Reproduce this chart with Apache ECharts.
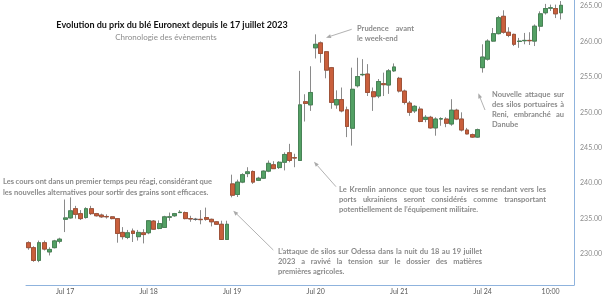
<!DOCTYPE html>
<html><head><meta charset="utf-8">
<script src="https://cdn.jsdelivr.net/npm/echarts@6/dist/echarts.min.js"></script>
<style>html,body{margin:0;padding:0;background:#fff}#c{width:605px;height:297px}</style>
</head><body><div id="c"></div>
<script>
// 30-minute candles, Euronext milling wheat (EUR/t)
const openV  = [231.6,230.9,229.1,231.6,230.3,230.9,231.8,234.9,235.1,236.4,235.7,235.15,236.4,235.7,235.5,235.3,235.25,235.0,233.05,232.35,
233.25,232.45,233.0,233.0,234.65,233.6,233.75,235.2,235.4,235.85,235.85,235.0,234.9,234.9,235.15,234.9,234.55,234.2,232.05,239.9,
238.4,240.15,241.35,241.65,240.4,240.7,241.7,242.6,242.2,242.95,244.3,243.6,243.2,251.5,251.05,259.1,259.8,258.55,256.3,251.05,
251.8,250.35,247.75,253.75,255.3,255.4,252.9,252.3,254.05,253.85,255.85,254.8,253.0,251.3,250.2,250.45,249.0,249.3,247.8,249.05,
249.05,248.35,250.3,249.05,247.5,246.85,246.5,256.3,257.5,260.05,261.1,263.55,261.3,261.0,260.0,260.1,260.15,260.05,262.15,264.05,
264.7,264.65,264.05];
const closeV = [230.9,229.1,231.6,230.7,230.65,231.85,232.1,235.1,236.1,235.6,235.0,236.4,235.7,235.4,235.25,235.25,235.0,232.9,232.45,233.0,
232.9,233.05,232.75,234.7,233.5,234.3,235.25,235.25,235.7,235.9,235.0,234.95,234.9,234.85,234.9,234.55,234.2,232.05,234.2,238.3,
240.15,241.2,241.6,240.15,240.7,241.7,242.8,242.05,242.95,244.05,243.2,243.55,251.05,251.25,252.8,259.6,258.3,255.95,251.4,251.8,
250.2,248.0,253.25,255.05,255.35,252.8,252.2,254.35,253.9,255.85,256.4,253.0,251.4,250.0,250.85,248.7,249.3,247.8,249.05,249.1,
248.45,250.3,249.05,247.5,246.95,246.5,247.55,257.8,260.05,261.1,263.35,261.3,260.85,259.6,260.05,260.15,260.1,262.15,263.9,264.65,
264.75,263.9,265.1];
const lowV   = [230.6,228.9,228.85,230.5,229.8,230.8,231.5,233.1,235.0,235.0,234.8,235.0,235.5,235.3,235.1,235.0,234.9,231.6,232.05,232.1,
231.7,231.9,231.5,232.8,233.4,233.5,233.7,234.7,235.25,235.8,234.9,234.55,234.7,234.2,234.7,233.9,234.1,232.0,232.0,238.0,
238.05,240.0,240.85,239.9,240.3,240.6,241.55,242.0,242.0,241.8,242.95,242.25,243.15,248.7,250.2,257.6,257.0,254.8,250.5,250.5,
250.0,246.5,245.3,253.5,255.1,252.3,250.2,252.0,252.3,252.6,255.7,252.8,251.1,249.5,249.9,248.6,248.6,247.7,246.7,248.1,
247.9,248.1,248.9,247.3,246.9,246.4,246.4,255.6,257.3,259.95,261.0,261.1,260.6,259.35,259.1,259.6,259.5,259.35,261.45,263.8,
264.3,263.3,263.1];
const highV  = [231.8,231.1,231.9,231.9,230.95,232.0,232.3,237.7,238.0,236.8,236.2,236.6,236.8,235.8,235.7,235.6,235.35,235.05,233.8,233.4,
233.6,233.4,233.5,234.8,234.8,234.75,235.4,235.85,235.8,236.2,236.0,235.4,235.1,236.2,236.55,235.0,234.65,234.7,234.7,241.2,
240.5,241.4,242.25,241.8,240.9,241.8,243.2,243.1,243.1,244.35,245.55,244.15,255.85,252.55,256.5,261.0,260.0,258.65,256.4,253.1,
253.5,250.8,256.3,257.7,257.5,256.8,253.5,254.7,255.6,256.1,256.9,255.0,253.2,251.6,251.0,250.8,249.6,249.5,249.3,249.3,
249.3,251.85,250.5,250.0,247.8,247.0,247.7,259.6,260.3,261.9,263.6,264.4,262.0,261.1,260.5,261.2,261.3,262.4,264.25,265.3,
265.2,265.2,265.7];
const slotCount = 105;
const tickIndex = [7, 23, 39, 55, 71, 87, 100];
const tickText  = ['Jul 17', 'Jul 18', 'Jul 19', 'Jul 20', 'Jul 21', 'Jul 24', '10:00'];
const yTicks    = [230, 235, 240, 245, 250, 255, 260, 265];
const yMin = 225.63, yMax = 265.85;

const categories = Array.from({length: slotCount}, (_, i) => {
  const k = tickIndex.indexOf(i); return k >= 0 ? tickText[k] : '';
});
const wickData = openV.map((o, i) => [o, closeV[i], lowV[i], highV[i]]);
const bodyData = openV.map((o, i) => [o, closeV[i], Math.min(o, closeV[i]), Math.max(o, closeV[i])]);

const chart = echarts.init(document.getElementById('c'), null, {renderer: 'canvas'});

const FONT = 'Lato';
const annColor = '#8a8a8a';
const ctx = document.createElement('canvas').getContext('2d');
function para(lines, x, yc, w, lh, nJust, fs) {
  const font = 'bold ' + fs + 'px ' + FONT;
  ctx.font = font;
  const out = [];
  lines.forEach((ln, li) => {
    const y = yc + li * lh;
    if (li < nJust) {
      const words = ln.split(/\s+/);
      const ws = words.map(t => ctx.measureText(t).width);
      const sum = ws.reduce((a, b) => a + b, 0);
      const gap = words.length > 1 ? (w - sum) / (words.length - 1) : 0;
      let cx = x;
      words.forEach((t, k) => {
        out.push({type: 'text', silent: true, style: {text: t, x: cx, y: y, font: font, fill: annColor, align: 'left', verticalAlign: 'middle'}});
        cx += ws[k] + gap;
      });
    } else {
      out.push({type: 'text', silent: true, style: {text: ln, x: x, y: y, font: font, fill: annColor, align: 'left', verticalAlign: 'middle'}});
    }
  });
  return out;
}
function arrow(x1, y1, x2, y2) {
  const a = Math.atan2(y2 - y1, x2 - x1), L = 5, H = 2;
  const bx = x2 - L * Math.cos(a), by = y2 - L * Math.sin(a);
  return [
    {type: 'line', silent: true, shape: {x1: x1, y1: y1, x2: bx, y2: by}, style: {stroke: '#a9a9a9', lineWidth: 0.9}},
    {type: 'polygon', silent: true, shape: {points: [[x2, y2], [bx - H * Math.sin(a), by + H * Math.cos(a)], [bx + H * Math.sin(a), by - H * Math.cos(a)]]}, style: {fill: '#a9a9a9'}}
  ];
}

const graphics = [].concat(
  [{type: 'text', silent: true, style: {text: 'Evolution du prix du blé Euronext depuis le 17 juillet 2023', x: 172, y: 25, font: 'bold 9px ' + FONT, fill: '#111111', align: 'center', verticalAlign: 'middle'}},
   {type: 'text', silent: true, style: {text: 'Chronologie des évènements', x: 166, y: 37, font: '8px ' + FONT, fill: '#8c8c8c', align: 'center', verticalAlign: 'middle'}}],
  para(['Prudence avant', 'le week-end'], 357, 28.5, 57, 10, 1, 7.5),
  para(['Nouvelle attaque sur', 'des silos portuaires à', 'Reni, embranché au', 'Danube'], 492, 95, 72, 9.8, 3, 7.5),
  para(['Les cours ont dans un premier temps peu réagi, considérant que', 'les nouvelles alternatives pour sortir des grains sont efficaces.'], 3, 181.7, 209, 11, 1, 7.5),
  para(['Le Kremlin annonce que tous les navires se rendant vers les', 'ports ukrainiens seront considérés comme transportant', 'potentiellement de l\u2019équipement militaire.'], 339, 189.3, 207, 10, 2, 7.5),
  para(['L\u2019attaque de silos sur Odessa dans la nuit du 18 au 19 juillet', '2023 a ravivé la tension sur le dossier des matières', 'premières agricoles.'], 278, 251.7, 204, 10, 2, 7.5),
  arrow(351.7, 29.3, 326, 37.7),
  arrow(485, 110, 478.3, 93.3),
  arrow(336, 186.7, 314, 161.7),
  arrow(273.3, 250, 233.3, 210.7)
);

chart.setOption({
  animation: false,
  backgroundColor: '#fff',
  grid: {left: 26, right: 29, top: 0, bottom: 12},
  xAxis: {
    type: 'category', data: categories, boundaryGap: true,
    axisLine: {lineStyle: {color: '#8fb3dd', width: 1}},
    axisTick: {alignWithLabel: true, interval: (i, v) => v !== '', length: 3, lineStyle: {color: '#8fb3dd'}},
    axisLabel: {interval: (i, v) => v !== '', fontSize: 7, color: '#595959', fontFamily: FONT, margin: 3},
    splitLine: {show: false}
  },
  yAxis: {
    type: 'value', position: 'right', min: yMin, max: yMax, scale: true,
    axisLine: {show: true, lineStyle: {color: '#8fb3dd', width: 1}},
    axisTick: {show: false},
    splitLine: {show: false},
    axisLabel: {customValues: yTicks, formatter: v => v.toFixed(2), fontSize: 7, color: '#8c8c8c', fontFamily: FONT, margin: 6}
  },
  series: [
    {type: 'candlestick', data: wickData, barWidth: 4.4, silent: true,
     itemStyle: {color: '#8a8a8a', color0: '#8a8a8a', borderColor: '#8a8a8a', borderColor0: '#8a8a8a', borderColorDoji: '#8a8a8a', borderWidth: 1}},
    {type: 'candlestick', data: bodyData, barWidth: 4.4, silent: true,
     itemStyle: {color: '#53a064', color0: '#c95f3c', borderColor: '#3f7f4e', borderColor0: '#9e4a2f', borderColorDoji: '#555555', borderWidth: 0.8}}
  ],
  graphic: graphics
});
</script>
</body></html>
